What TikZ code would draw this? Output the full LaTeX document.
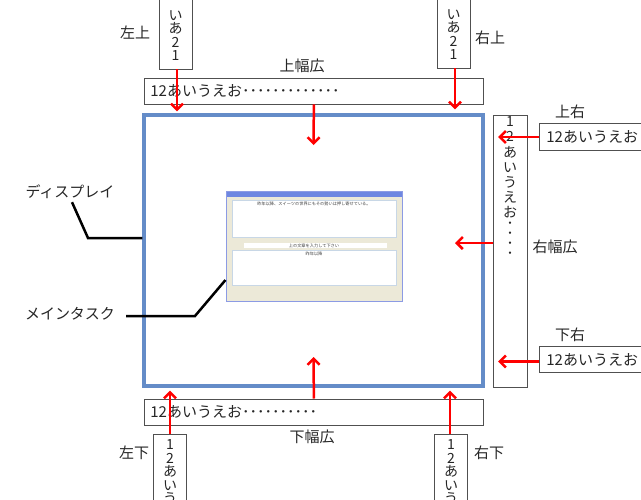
\documentclass[tikz,border=0pt]{standalone}
\usepackage{fontspec}
\setmainfont{Noto Sans CJK JP}
\usetikzlibrary{arrows.meta}
\definecolor{dispblue}{RGB}{100,140,200}
\definecolor{arrred}{RGB}{255,0,0}
\definecolor{boxgray}{RGB}{80,80,80}
\definecolor{formbg}{RGB}{236,233,216}
\definecolor{formedge}{RGB}{140,155,228}
\definecolor{titleblue}{RGB}{110,135,225}
\definecolor{inneredge}{RGB}{200,215,230}
\begin{document}
\begin{tikzpicture}[x=1pt,y=-1pt,
  every node/.style={font=\fontsize{15}{15}\selectfont, text=black!85, inner sep=0pt},
  hbar/.style={draw=boxgray, line width=0.8pt, fill=white, minimum height=26pt, anchor=north west, align=left, inner xsep=6pt},
  vbox/.style={draw=boxgray, line width=0.8pt, fill=white, minimum width=33pt},
  vtext/.style={align=center, font=\fontsize{14}{13.5}\selectfont},
  redarrow/.style={draw=arrred, line width=2.5pt, -{Straight Barb[length=6pt,width=12pt]}},
  callout/.style={draw=black, line width=2.5pt},
  tiny/.style={font=\fontsize{4.2}{5}\selectfont, text=black!75},
]
\useasboundingbox (0,0) rectangle (641,499);
\clip (0,0) rectangle (641,499);

% display
\node[draw=dispblue, line width=3.2pt, minimum width=339pt, minimum height=271pt] (disp) at (313.5,250.5) {};

% main task window
\node[draw=formedge, fill=formbg, line width=1pt, minimum width=176pt, minimum height=110pt] (task) at (314,246) {};
\fill[titleblue] (226.5,191.5) rectangle (401.5,197);
\filldraw[fill=white, draw=inneredge, line width=0.4pt] (232,200) rectangle (396,237);
\node[tiny] (t1) at (314,203.5) {昨年以降、スイーツの世界にもその勢いは押し寄せている。};
\fill[white] (244,243) rectangle (387,248);
\node[tiny] (t2) at (314,245.5) {上の文章を入力して下さい};
\filldraw[fill=white, draw=inneredge, line width=0.6pt] (232,250) rectangle (396,285);
\node[tiny] (t3) at (314,253.5) {昨年以降};

% top bar / bottom bar
\node[hbar, text width=327pt] (topbar) at (144,77.5) {12あいうえお･････････････};
\node[hbar, text width=327pt] (botbar) at (144,398.5) {12あいうえお･･････････};
\node (ltop) at (302,66) {上幅広};
\node (lbot) at (312,437) {下幅広};

% top vertical boxes
\node[vbox, minimum height=80pt] (tl) at (175.5,29) {};
\node[vtext, anchor=south] (tlt) at (175.5,61) {い\\あ\\2\\1};
\node[vbox, minimum height=80pt] (tr) at (453.5,28) {};
\node[vtext, anchor=south] (trt) at (453.5,60) {い\\あ\\2\\1};
\node (ltl) at (135,33) {左上};
\node (ltr) at (490,38) {右上};

% bottom vertical boxes
\node[vbox, minimum height=90pt] (bl) at (170,479) {};
\node[vtext, anchor=north] (blt) at (170,439.5) {1\\2\\あ\\い\\う};
\node[vbox, minimum height=90pt] (br) at (451,479) {};
\node[vtext, anchor=north] (brt) at (451,439.5) {1\\2\\あ\\い\\う};
\node (lbl) at (134,453) {左下};
\node (lbr) at (489,453) {右下};

% right vertical box
\node[vbox, minimum width=34pt, minimum height=272pt] (rb) at (510,251) {};
\node[align=center, font=\fontsize{14}{15.2}\selectfont, anchor=north] (rbt) at (510,116.5)
  {1\\2\\あ\\い\\う\\え\\お\\[-5pt]･\\[-5pt]･\\[-5pt]･\\[-5pt]･};
\node (lrb) at (555,247) {右幅広};

% right label boxes
\node[hbar, text width=110pt, minimum height=27pt, inner xsep=7pt] (rtop) at (539,123) {12あいうえお};
\node[hbar, text width=110pt, minimum height=26pt, inner xsep=7pt] (rbot) at (539,346) {12あいうえお};
\node (lrt) at (570,112) {上右};
\node (lrbt) at (570,335) {下右};

% callout labels
\node (ldisp) at (70,192) {ディスプレイ};
\node (ltask) at (70,314) {メインタスク};
\draw[callout] ([xshift=2pt,yshift=-3pt]ldisp.south) -- (88,238) -- (disp.west |- 0,238);
\draw[callout] ([xshift=11pt,yshift=-2pt]ltask.east) -- (195,316) -- (task.west |- 0,280);

% red arrows
\coordinate (dt) at (313.5,145);
\coordinate (db) at (313.5,357);
\coordinate (dr) at (455,243);
\draw[redarrow, shorten >=2pt] ([xshift=1.5pt]tl.south) -- ([xshift=1.5pt]tl.south |- disp.north);
\draw[redarrow, shorten >=4pt] ([xshift=1.5pt]tr.south) -- ([xshift=1.5pt]tr.south |- disp.north);
\draw[redarrow] (topbar.south) -- (dt);
\draw[redarrow] (botbar.north) -- (db);
\draw[redarrow] (rb.west |- dr) -- (dr);
\draw[redarrow, shorten >=3pt] (bl.north) -- (bl.north |- disp.south);
\draw[redarrow, shorten >=3pt] ([xshift=-1pt]br.north) -- ([xshift=-1pt]br.north |- disp.south);
\draw[redarrow, shorten >=5.5pt] (rtop.west) -- (rtop.west -| rb.west);
\draw[redarrow, shorten >=5.5pt] ([yshift=-2pt]rbot.west) -- ([yshift=-2pt]rbot.west -| rb.west);
\end{tikzpicture}
\end{document}
